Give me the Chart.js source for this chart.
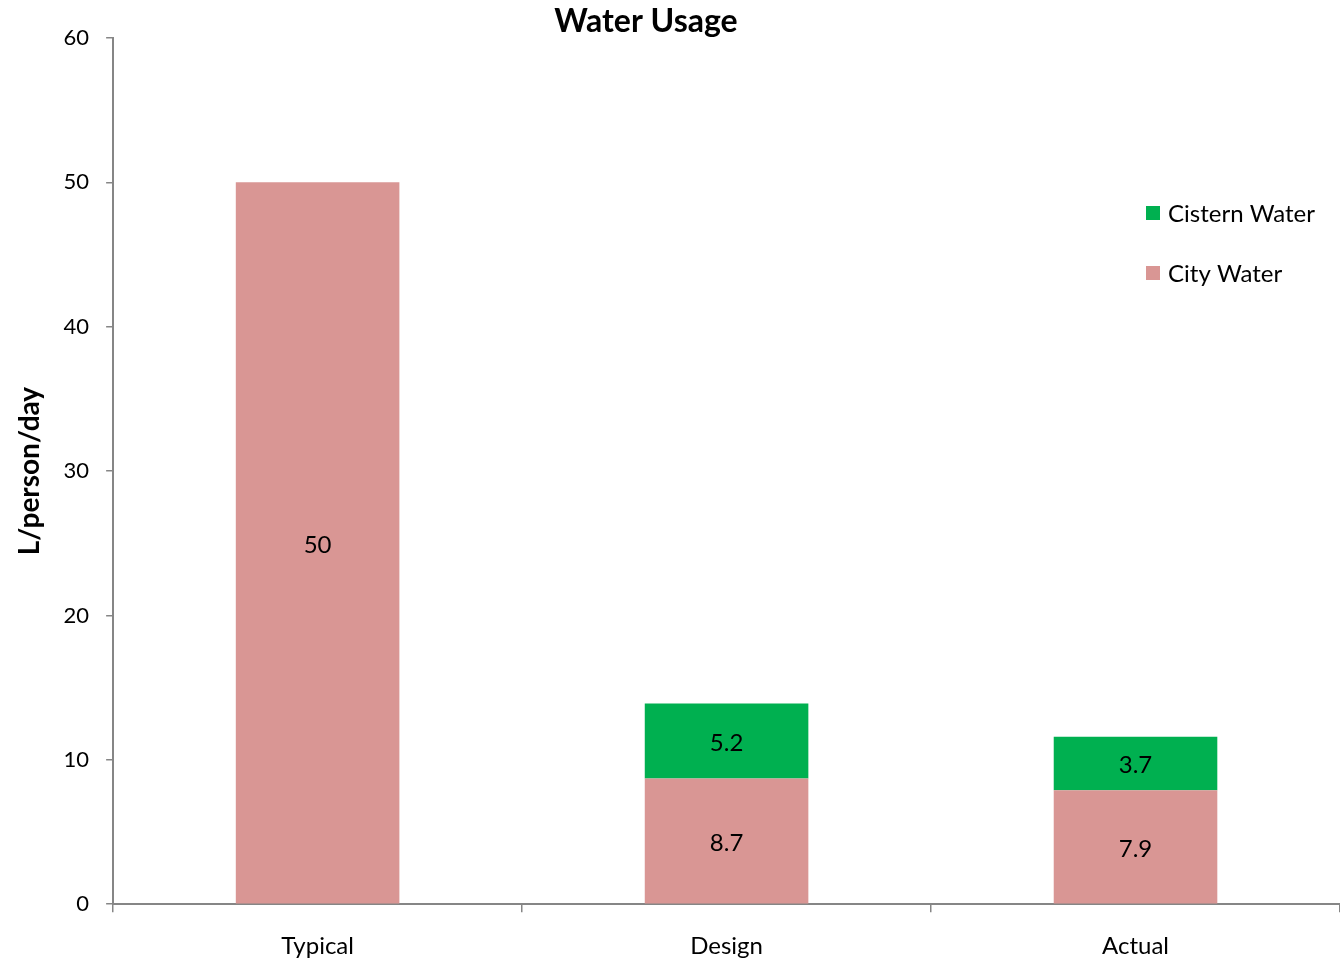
<!DOCTYPE html>
<html>
<head>
<meta charset="utf-8">
<script src="https://cdn.jsdelivr.net/npm/chart.js@4/dist/chart.umd.min.js"></script>
<style>
  html, body { margin: 0; padding: 0; background: #fff; }
  #container { width: 1340px; height: 960px; }
</style>
</head>
<body>
<div id="container"><canvas id="chart"></canvas></div>
<script>
"use strict";

const categories = ['Typical', 'Design', 'Actual'];
const cityWater = [50, 8.7, 7.9];
const cisternWater = [null, 5.2, 3.7];
const yTicks = [0, 10, 20, 30, 40, 50, 60];

const FONT = "Lato, 'Open Sans', sans-serif";
const AXIS_COLOR = '#868686';
const CITY_COLOR = '#D99694';
const CISTERN_COLOR = '#00B050';

// value written in the middle of each bar segment
const barLabels = {
  id: 'barLabels',
  afterDatasetsDraw(chart) {
    const ctx = chart.ctx;
    ctx.save();
    ctx.font = `24px ${FONT}`;
    ctx.fillStyle = '#000';
    ctx.textAlign = 'center';
    ctx.textBaseline = 'middle';
    chart.data.datasets.forEach((dataset, i) => {
      chart.getDatasetMeta(i).data.forEach((bar, j) => {
        const value = dataset.data[j];
        if (value === null || value === undefined) return;
        ctx.fillText(String(value), bar.x, (bar.y + bar.base) / 2 + 2);
      });
    });
    ctx.restore();
  },
};

// title and legend drawn by hand so they can sit where the layout wants them
const chartDecor = {
  id: 'chartDecor',
  afterDraw(chart) {
    const ctx = chart.ctx;
    ctx.save();
    ctx.font = `bold 32px ${FONT}`;
    ctx.fillStyle = '#000';
    ctx.textAlign = 'center';
    ctx.textBaseline = 'middle';
    ctx.fillText('Water Usage', 646, 22);

    const items = [
      { text: 'Cistern Water', color: CISTERN_COLOR },
      { text: 'City Water', color: CITY_COLOR },
    ];
    ctx.font = `24px ${FONT}`;
    ctx.textAlign = 'left';
    items.forEach((item, i) => {
      const y = 213 + i * 60;
      ctx.fillStyle = item.color;
      ctx.fillRect(1146, y - 7, 14, 14);
      ctx.fillStyle = '#000';
      ctx.fillText(item.text, 1168, y + 1);
    });
    ctx.restore();
  },
};

document.addEventListener('DOMContentLoaded', function () {
  const canvasElement = document.getElementById('chart');
  new Chart(canvasElement, {
    type: 'bar',
    data: {
      labels: categories,
      datasets: [
        {
          label: 'City Water',
          data: cityWater,
          backgroundColor: CITY_COLOR,
          barPercentage: 0.4,
          categoryPercentage: 1,
        },
        {
          label: 'Cistern Water',
          data: cisternWater,
          backgroundColor: CISTERN_COLOR,
          barPercentage: 0.4,
          categoryPercentage: 1,
        },
      ],
    },
    plugins: [barLabels, chartDecor],
    options: {
      responsive: true,
      maintainAspectRatio: false,
      animation: false,
      layout: {
        padding: { top: 38, right: -2, bottom: -21, left: 13 },
      },
      scales: {
        x: {
          stacked: true,
          offset: true,
          border: { color: AXIS_COLOR, width: 2 },
          grid: {
            offset: true,
            drawOnChartArea: false,
            drawTicks: true,
            tickLength: 8,
            color: AXIS_COLOR,
            lineWidth: 1.5,
          },
          ticks: {
            color: '#000',
            padding: 20,
            font: { family: FONT, size: 24 },
          },
        },
        y: {
          stacked: true,
          min: 0,
          max: 60,
          afterBuildTicks: axis => {
            axis.ticks = yTicks.map(v => ({ value: v }));
          },
          border: { color: AXIS_COLOR, width: 2 },
          grid: {
            drawOnChartArea: false,
            drawTicks: true,
            tickLength: 7,
            color: AXIS_COLOR,
            lineWidth: 1.5,
          },
          ticks: {
            color: '#000',
            padding: 17,
            font: { family: FONT, size: 22 },
          },
          title: {
            display: true,
            text: 'L/person/day',
            color: '#000',
            padding: { top: 0, bottom: 0 },
            font: { family: FONT, size: 28, weight: 'bold' },
          },
        },
      },
      plugins: {
        legend: { display: false },
        tooltip: { enabled: false },
        title: { display: false },
      },
    },
  });
});
</script>
</body>
</html>
